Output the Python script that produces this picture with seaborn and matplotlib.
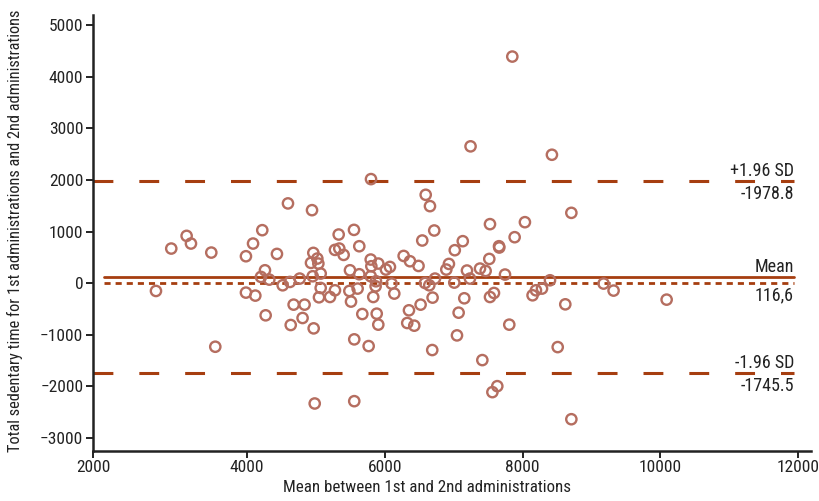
import numpy as np
import pandas as pd
import matplotlib
matplotlib.use("Agg")
import matplotlib.pyplot as plt
from matplotlib import font_manager as fm
import seaborn as sns

# ==============================
# Data
# ==============================
mean_vals = [2679, 2901, 3124, 3187, 3482, 3540, 3985, 3985, 4088, 4121,
             4203, 4222, 4261, 4271, 4324, 4435, 4518, 4595, 4624, 4635,
             4677, 4765, 4807, 4836, 4929, 4944, 4954, 4963, 4968, 4983,
             5021, 5036, 5045, 5070, 5070, 5205, 5277, 5277, 5331, 5340,
             5403, 5486, 5495, 5510, 5553, 5557, 5557, 5606, 5630, 5630,
             5674, 5766, 5796, 5800, 5805, 5796, 5833, 5867, 5872, 5883,
             5906, 5906, 6017, 6075, 6099, 6138, 6274, 6326, 6351, 6366,
             6428, 6490, 6520, 6544, 6584, 6594, 6646, 6656, 6689, 6694,
             6718, 6729, 6893, 6931, 7009, 7016, 7048, 7072, 7132, 7154,
             7193, 7236, 7245, 7382, 7416, 7464, 7517, 7527, 7527, 7562,
             7585, 7633, 7658, 7662, 7745, 7807, 7851, 7885, 8034, 8145,
             8194, 8282, 8398, 8426, 8510, 8620, 8708, 8708, 9176, 9321,
             10091]
diff_vals = [-149, 673, 919, 770, 595, -1230, 524, -181, 770, -239,
             123, 1029, 252, -621, 71, 569, -39, 1548, 26, -809,
             -414, 91, -673, -414, 395, 1417, 136, 589, -874, -2330,
             479, 382, -272, 188, -91, -266, -136, 647, 945, 673,
             550, -149, 252, -355, 1035, -1087, -2285, -103, 718, 175,
             -596, -1217, 460, 2019, 330, 136, -266, -58, 39, -589,
             382, -802, 266, 317, -6, -200, 530, -770, -524, 427,
             -822, 336, -414, 829, 6, 1715, -39, 1495, -1294, -278,
             1023, 91, 266, 375, 13, 641, -1010, -570, 816, -291,
             247, 91, 2654, 285, -1489, 239, 472, 1146, -266, -2110,
             -188, -1994, 718, 693, 169, -802, 4394, 893, 1184, -233,
             -136, -103, 58, 2491, -1237, -408, 1365, -2635, -6, -142,
             -317]

mean_diff = 116.6
upper_loa = 1978.8
lower_loa = -1745.5

x_ticks = [4000, 6000, 8000, 10000, 12000]
x_tick_labels = ["2000", "4000", "6000", "8000", "10000", "12000"]

df = pd.DataFrame({"mean": mean_vals, "diff": diff_vals})

# ==============================
# Style
# ==============================
sns.set_theme(style="ticks")

# look for a narrow / condensed font (reference uses a condensed face)
def find_condensed():
    prefs = ["Liberation Sans Narrow", "Roboto Condensed", "Open Sans Condensed",
             "Noto Sans", "DejaVu Sans", "Liberation Sans", "Roboto", "Open Sans"]
    found = {}
    for f in fm.fontManager.ttflist:
        if f.style != "normal" or f.weight not in (400, "normal", "regular"):
            continue
        narrow = ("Narrow" in f.name or "Condensed" in f.name
                  or f.stretch in ("condensed", "semi-condensed", "extra-condensed")
                  or (isinstance(f.stretch, int) and f.stretch < 500))
        if narrow:
            found.setdefault(f.name, f)
    for p in prefs:
        if p in found:
            return found[p]
    if found:
        return list(found.values())[0]
    return None

cf = find_condensed()
if cf is not None:
    plt.rcParams["font.family"] = [cf.name, "DejaVu Sans"]
    plt.rcParams["font.stretch"] = cf.stretch
    scale = 1.0
else:
    plt.rcParams["font.family"] = ["DejaVu Sans"]
    scale = 0.8

line_col = "#a63e10"
pt_col = "#b56e60"
txt_col = "#222222"

fig = plt.figure(figsize=(8.2, 5.01), dpi=100)
ax = fig.add_axes([0.1134, 0.1004, 0.8756, 0.8697])

sns.scatterplot(data=df, x="mean", y="diff", ax=ax, marker="o", s=55,
                facecolor="none", edgecolor=pt_col, linewidth=1.7, zorder=3)

# Bland-Altman lines
x_left, x_right = 1765, 12186
x1 = 11940
ax.plot([x_left, x1], [upper_loa, upper_loa], color=line_col, lw=2.2,
        dashes=(6.5, 8.5), zorder=2)
ax.plot([x_left, x1], [lower_loa, lower_loa], color=line_col, lw=2.2,
        dashes=(6.5, 8.5), zorder=2)
ax.plot([1925, x1], [mean_diff, mean_diff], color=line_col, lw=2.0, zorder=2)
ax.plot([1925, x1], [0, 0], color=line_col, lw=2.0, dashes=(2.2, 1.8), zorder=2)

# labels on the right
lab_kw = dict(ha="right", fontsize=13 * scale, color=txt_col)
ax.annotate("+1.96 SD", (x1, upper_loa), xytext=(0, 1), textcoords="offset points",
            va="bottom", **lab_kw)
ax.annotate("-1978.8", (x1, upper_loa), xytext=(0, -3), textcoords="offset points",
            va="top", **lab_kw)
ax.annotate("Mean", (x1, mean_diff), xytext=(0, 1), textcoords="offset points",
            va="bottom", **lab_kw)
ax.annotate("116,6", (x1, 0), xytext=(0, -2), textcoords="offset points",
            va="top", **lab_kw)
ax.annotate("-1.96 SD", (x1, lower_loa), xytext=(0, 1), textcoords="offset points",
            va="bottom", **lab_kw)
ax.annotate("-1745.5", (x1, lower_loa), xytext=(0, -3), textcoords="offset points",
            va="top", **lab_kw)

# x axis starts at the break, the first tick sits on the corner as in the original
ax.set_xlim(x_left, x_right)
ax.set_ylim(-3245, 5200)
ax.set_xticks([x_left] + x_ticks, labels=x_tick_labels)
ax.set_yticks(np.arange(-3000, 5001, 1000))
ax.set_xlabel("Mean between 1st and 2nd administrations", fontsize=12.2 * scale,
              color=txt_col)
ax.xaxis.set_label_coords(0.465, -0.068)
ax.set_ylabel("Total sedentary time for 1st administrations and 2nd administrations",
              fontsize=11.8 * scale, color=txt_col)
ax.yaxis.set_label_coords(-0.097, 0.505)

for side in ["top", "right"]:
    ax.spines[side].set_visible(False)
for side in ["left", "bottom"]:
    ax.spines[side].set_linewidth(1.8)
    ax.spines[side].set_color(txt_col)
ax.tick_params(axis="both", length=5, width=1.4, color=txt_col,
               labelsize=12.5 * scale, labelcolor=txt_col, pad=2)

fig.savefig("out.png", dpi=100)
